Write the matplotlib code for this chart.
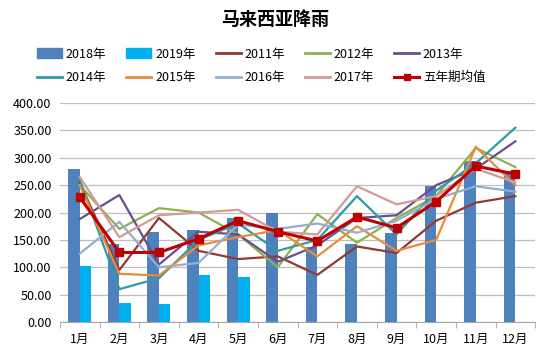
import numpy as np
import matplotlib
matplotlib.use("Agg")
import matplotlib.pyplot as plt
from matplotlib.lines import Line2D
from matplotlib.patches import Patch

plt.rcParams['font.family'] = ['Noto Sans CJK SC', 'DejaVu Sans']

# data
months = ["1月", "2月", "3月", "4月", "5月", "6月", "7月", "8月", "9月", "10月", "11月", "12月"]
y2018 = [280, 143, 165, 168, 190, 200, 137, 142, 163, 248, 295, 275]
y2019 = [102, 35, 33, 85, 83]
y2011 = [255, 95, 190, 130, 115, 120, 86, 138, 126, 185, 218, 230]
y2012 = [250, 170, 208, 200, 160, 100, 197, 145, 190, 230, 318, 283]
y2013 = [188, 232, 105, 165, 160, 110, 140, 190, 195, 250, 280, 330]
y2014 = [260, 60, 80, 150, 180, 130, 150, 230, 160, 240, 290, 355]
y2015 = [250, 88, 85, 140, 155, 168, 120, 175, 130, 150, 320, 250]
y2016 = [125, 183, 100, 108, 178, 170, 180, 163, 185, 225, 248, 238]
y2017 = [265, 155, 195, 200, 205, 165, 160, 248, 215, 230, 280, 255]
avg5 = [228, 127, 127, 152, 185, 165, 148, 192, 172, 220, 285, 270]

line_series = [
    ("2011年", y2011, "#953735"),
    ("2012年", y2012, "#8FB04F"),
    ("2013年", y2013, "#6B4E8E"),
    ("2014年", y2014, "#2E9BA6"),
    ("2015年", y2015, "#E88B3A"),
    ("2016年", y2016, "#93AED3"),
    ("2017年", y2017, "#D49A98"),
]

fig = plt.figure(figsize=(5.5, 3.56), dpi=100)
ax = fig.add_axes([0.109, 0.0955, 0.864, 0.615])

x = np.arange(len(months))
w = 0.29
ax.bar(x - w / 2, y2018, width=w, color="#4F81BD", zorder=2)
ax.bar(np.arange(len(y2019)) + w / 2, y2019, width=w, color="#00B0F0", zorder=2)

for name, vals, c in line_series:
    ax.plot(x, vals, color=c, lw=1.6, zorder=3)
ax.plot(x, avg5, color="#C00000", lw=2.2, marker="s", ms=6, zorder=4)

ax.set_xlim(-0.5, len(months) - 0.5)
ax.set_ylim(0, 400)
ax.set_yticks(np.arange(0, 401, 50))
ax.set_yticklabels([f"{v:.2f}" for v in np.arange(0, 401, 50)], fontsize=9)
ax.yaxis.grid(True, color="#BFBFBF", lw=0.9, zorder=0)
ax.set_axisbelow(True)
ax.tick_params(axis="y", length=0, pad=6)
ax.set_xticks(x)
ax.set_xticklabels(months, fontsize=9)
ax.set_xticks(np.arange(-0.5, len(months), 1), minor=True)
ax.tick_params(axis="x", which="major", length=0, pad=8)
ax.tick_params(axis="x", which="minor", length=4, color="#A6A6A6")
for s in ["top", "right", "left"]:
    ax.spines[s].set_visible(False)
ax.spines["bottom"].set_color("#A6A6A6")

fig.text(0.5, 0.945, "马来西亚降雨", ha="center", va="center", fontsize=13, fontweight="bold")

handles = [Patch(color="#4F81BD"), Patch(color="#00B0F0")]
labels = ["2018年", "2019年"]
for name, vals, c in line_series:
    handles.append(Line2D([], [], color=c, lw=2))
    labels.append(name)
handles.append(Line2D([], [], color="#C00000", lw=2.2, marker="s", ms=5))
labels.append("五年期均值")
order = [0, 5, 1, 6, 2, 7, 3, 8, 4, 9]
fig.legend([handles[i] for i in order], [labels[i] for i in order], ncol=5,
           loc="center", bbox_to_anchor=(0.475, 0.815), frameon=False, fontsize=9,
           handlelength=2.0, handleheight=0.8, handletextpad=0.3,
           columnspacing=1.6, labelspacing=0.85)

fig.savefig("out.png", dpi=100)
